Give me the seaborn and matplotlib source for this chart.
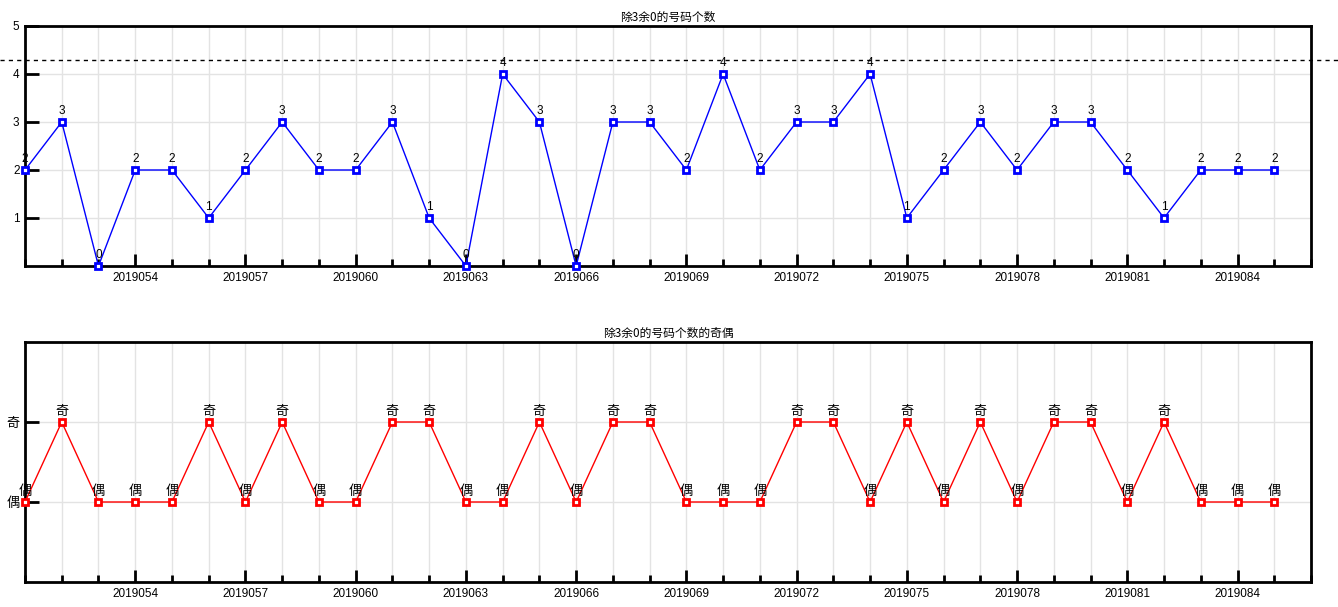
import matplotlib
matplotlib.use("Agg")
import matplotlib.pyplot as plt
import seaborn as sns
import pandas as pd
import numpy as np
from matplotlib.ticker import MultipleLocator, FixedLocator

periods = list(range(2019051, 2019086))
counts = [2, 3, 0, 2, 2, 1, 2, 3, 2, 2, 3, 1, 0, 4, 3, 0, 3, 3, 2, 4,
          2, 3, 3, 4, 1, 2, 3, 2, 3, 3, 2, 1, 2, 2, 2]
parity_labels = ["偶", "奇"]
top_title = "除3余0的号码个数"
bottom_title = "除3余0的号码个数的奇偶"
ref_line = 4.3

sns.set_style("white")
plt.rcParams['font.family'] = ['Liberation Sans', 'Noto Sans CJK SC', 'DejaVu Sans']
for k in ["text.color", "axes.labelcolor", "xtick.color", "ytick.color", "axes.edgecolor"]:
    plt.rcParams[k] = "black"
cjk = ['Noto Sans CJK SC', 'DejaVu Sans']

df = pd.DataFrame({"period": periods, "count": counts})
df["parity"] = df["count"] % 2
df["parity_label"] = [parity_labels[p] for p in df["parity"]]

fig = plt.figure(figsize=(13.38, 6.07), dpi=100)
W, H = 1338, 607
def axbox(l, t, r, b):
    return [l / W, (H - b) / H, (r - l) / W, (b - t) / H]

ax1 = fig.add_axes(axbox(25, 26, 1311, 266))
ax2 = fig.add_axes(axbox(25, 342, 1311, 582))

grid_c = "#e3e3e3"

def style_axes(ax):
    ax.set_xlim(periods[0], periods[-1] + 1)
    ax.xaxis.set_major_locator(FixedLocator([p for p in range(2019054, periods[-1] + 1, 3)]))
    ax.xaxis.set_minor_locator(MultipleLocator(1))
    ax.xaxis.set_major_formatter(matplotlib.ticker.FuncFormatter(lambda v, pos: f"{int(round(v))}"))
    ax.grid(True, which="both", axis="x", color=grid_c, lw=1, zorder=0)
    ax.grid(True, which="major", axis="y", color=grid_c, lw=1, zorder=0)
    for s in ax.spines.values():
        s.set_linewidth(2)
        s.set_color("black")
        s.set_visible(True)
    ax.tick_params(axis="x", which="major", direction="in", length=9, width=2, labelsize=8.5, pad=4, bottom=True, colors="black")
    ax.tick_params(axis="x", which="minor", direction="in", length=5, width=2, bottom=True, colors="black")
    ax.tick_params(axis="y", which="major", direction="in", length=10, width=2, labelsize=8.5, pad=4, left=True, colors="black")
    ax.set_xlabel("")
    ax.set_ylabel("")

mk = dict(marker="s", markersize=5, markerfacecolor="white", markeredgewidth=2)

# Top panel
sns.lineplot(data=df, x="period", y="count", ax=ax1, color="#0000ff", lw=1,
             markeredgecolor="#0000ff", zorder=3, clip_on=False, **mk)
style_axes(ax1)
ax1.set_ylim(0, 5)
ax1.yaxis.set_major_locator(FixedLocator([1, 2, 3, 4, 5]))
ax1.set_title(top_title, fontsize=8.5, family=cjk, pad=4)
for x, y in zip(df["period"], df["count"]):
    ax1.annotate(str(y), (x, y), xytext=(0, 3.5), textcoords="offset points",
                 ha="center", va="bottom", fontsize=8.5, zorder=4)
ax1.axhline(ref_line, xmin=-25 / 1286, xmax=(W - 25) / 1286, color="black",
            lw=1, ls=(0, (3, 3)), clip_on=False, zorder=2)

# Bottom panel
sns.lineplot(data=df, x="period", y="parity", ax=ax2, color="#ff0000", lw=1,
             markeredgecolor="#ff0000", zorder=3, clip_on=False, **mk)
style_axes(ax2)
ax2.set_ylim(-1, 2)
ax2.yaxis.set_major_locator(FixedLocator([0, 1]))
ax2.set_yticklabels(parity_labels, family=cjk, fontsize=9.5)
ax2.set_title(bottom_title, fontsize=8.5, family=cjk, pad=4)
for x, y, lab in zip(df["period"], df["parity"], df["parity_label"]):
    ax2.annotate(lab, (x, y), xytext=(0, 3), textcoords="offset points",
                 ha="center", va="bottom", fontsize=9.5, family=cjk, zorder=4)

fig.savefig("out.png", dpi=100)
